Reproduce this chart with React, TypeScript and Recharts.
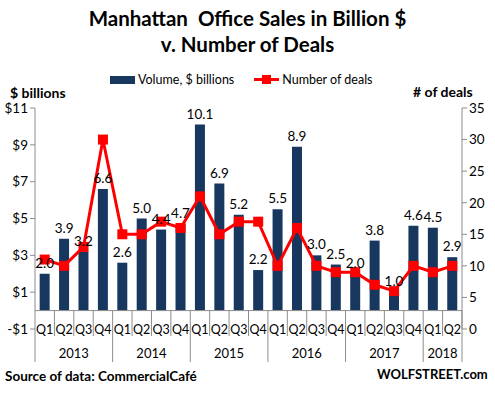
import { Bar, ComposedChart, LabelList, Line, ReferenceLine, XAxis, YAxis } from "recharts"

const quarters = [
  "Q1", "Q2", "Q3", "Q4", "Q1", "Q2", "Q3", "Q4", "Q1", "Q2", "Q3", "Q4",
  "Q1", "Q2", "Q3", "Q4", "Q1", "Q2", "Q3", "Q4", "Q1", "Q2",
]
const years = ["2013", "2014", "2015", "2016", "2017", "2018"]
const quartersPerYear = [4, 4, 4, 4, 4, 2]
const volume = [2.0, 3.9, 3.2, 6.6, 2.6, 5.0, 4.4, 4.7, 10.1, 6.9, 5.2, 2.2, 5.5, 8.9, 3.0, 2.5, 2.0, 3.8, 1.0, 4.6, 4.5, 2.9]
const deals = [11, 10, 13, 30, 15, 15, 17, 16, 21, 15, 17, 17, 10, 16, 10, 9, 9, 7, 6, 10, 9, 10]
const leftTicks = [-1, 1, 3, 5, 7, 9, 11]
const rightTicks = [0, 5, 10, 15, 20, 25, 30, 35]

const W = 495
const H = 393
const LEFT_W = 35
const RIGHT_W = 33
const TOP = 108
const XAXIS_H = 64
const STEP = (W - LEFT_W - RIGHT_W) / quarters.length

const NAVY = "#17375e"
const RED = "#ff0000"
const GRID = "#8c8c8c"
const FONT = "Lato, 'Open Sans', sans-serif"

// where each year starts on the category axis
const yearStart: number[] = []
let acc = 0
quartersPerYear.forEach((n) => {
  yearStart.push(acc)
  acc += n
})

const data = quarters.map((q, i) => ({ key: `${i}`, q, volume: volume[i], deals: deals[i] }))

function QuarterTick(props: any) {
  const { x, y, index } = props
  const left = x - STEP / 2
  const yi = yearStart.indexOf(index)
  const isYearStart = yi >= 0
  const axisY = y - 19
  return (
    <g>
      {index > 0 && (
        <line x1={left} x2={left} y1={axisY} y2={isYearStart ? y + 33 : y + 7} stroke={GRID} strokeWidth={1} />
      )}
      <text x={x} y={y + 5} textAnchor="middle" fontSize={12.5} fill="#000" fontFamily={FONT}>
        {quarters[index]}
      </text>
      {isYearStart && (
        <text
          x={left + (quartersPerYear[yi] * STEP) / 2}
          y={y + 29}
          textAnchor="middle"
          fontSize={13}
          fill="#000"
          fontFamily={FONT}
        >
          {years[yi]}
        </text>
      )}
      {index === quarters.length - 1 && (
        <>
          <line x1={x + STEP / 2} x2={x + STEP / 2} y1={axisY} y2={y + 33} stroke={GRID} />
          <line x1={LEFT_W} x2={LEFT_W} y1={y} y2={y + 33} stroke={GRID} />
        </>
      )}
    </g>
  )
}

function SquareDot(props: any) {
  const { cx, cy } = props
  if (cx == null || cy == null) return null
  return <rect x={cx - 5} y={cy - 5} width={10} height={10} fill={RED} />
}

const textStyle = { position: "absolute" as const, fontFamily: FONT, color: "#000", whiteSpace: "nowrap" as const }

export default function App() {
  return (
    <div style={{ position: "absolute", left: 0, top: 0, width: W, height: H, background: "#fff" }}>
      <div style={{ ...textStyle, left: 0, width: W, top: 5, textAlign: "center", fontWeight: 700, fontSize: 20.5, lineHeight: "26px" }}>
        Manhattan&nbsp; Office Sales in Billion $<br />v. Number of Deals
      </div>

      <div style={{ ...textStyle, top: 72, left: 110, fontSize: 12.5, display: "flex", alignItems: "center" }}>
        <span style={{ display: "inline-block", width: 25, height: 8, background: NAVY, marginRight: 3 }} />
        <span>Volume, $ billions</span>
        <span style={{ display: "inline-block", width: 25, height: 3, background: RED, marginLeft: 20, marginRight: 3, position: "relative" }}>
          <span style={{ position: "absolute", left: 8, top: -3, width: 9, height: 9, background: RED }} />
        </span>
        <span>Number of deals</span>
      </div>

      <div style={{ ...textStyle, top: 84, left: 10, fontSize: 14, fontWeight: 700 }}>$ billions</div>
      <div style={{ ...textStyle, top: 83, left: 413, fontSize: 14, fontWeight: 700 }}># of deals</div>

      <ComposedChart
        width={W}
        height={H}
        data={data}
        margin={{ top: TOP, right: 0, bottom: 0, left: 0 }}
        barCategoryGap="24%"
      >
        <XAxis
          dataKey="key"
          height={XAXIS_H}
          axisLine={false}
          tickLine={false}
          tickSize={0}
          tickMargin={0}
          interval={0}
          tick={<QuarterTick />}
        />
        <YAxis
          yAxisId="left"
          width={LEFT_W}
          domain={[-1, 11]}
          ticks={leftTicks}
          interval={0}
          stroke={GRID}
          tickSize={5}
          tick={{ fill: "#000", fontSize: 13.5, fontFamily: FONT }}
          tickFormatter={(v: number) => (v < 0 ? `-$${-v}` : `$${v}`)}
        />
        <YAxis
          yAxisId="right"
          orientation="right"
          width={RIGHT_W}
          domain={[0, 35]}
          ticks={rightTicks}
          interval={0}
          stroke={GRID}
          tickSize={5}
          tick={{ fill: "#000", fontSize: 13.5, fontFamily: FONT, textAnchor: "start" }}
        />
        <ReferenceLine yAxisId="left" y={0} stroke={GRID} />
        <Bar yAxisId="left" dataKey="volume" fill={NAVY} isAnimationActive={false}>
          <LabelList
            dataKey="volume"
            position="top"
            offset={6}
            formatter={(v: any) => Number(v).toFixed(1)}
            style={{ fill: "#000", fontSize: 13.5, fontFamily: FONT }}
          />
        </Bar>
        <Line
          yAxisId="right"
          dataKey="deals"
          stroke={RED}
          strokeWidth={3}
          dot={<SquareDot />}
          activeDot={false}
          isAnimationActive={false}
        />
      </ComposedChart>

      <div style={{ ...textStyle, top: 368, left: 5, fontSize: 13.5, fontWeight: 700 }}>Source of data: CommercialCafé</div>
      <div style={{ ...textStyle, top: 366, left: 377, fontSize: 13, fontWeight: 700 }}>WOLFSTREET.com</div>
    </div>
  )
}
